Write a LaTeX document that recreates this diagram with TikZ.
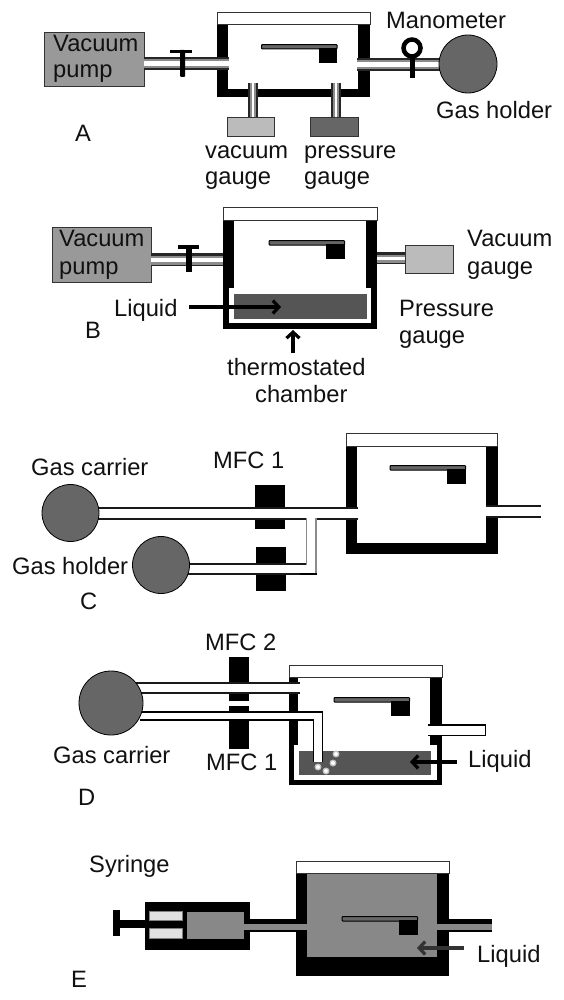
\documentclass[tikz,border=0pt]{standalone}
\usepackage{fontspec}
\setmainfont{Liberation Sans}
\usetikzlibrary{arrows.meta}
\definecolor{pumpgray}{HTML}{999999}
\definecolor{holdgray}{HTML}{666666}
\definecolor{vacgray}{HTML}{BBBBBB}
\definecolor{liqgray}{HTML}{555555}
\definecolor{fillgray}{HTML}{888888}
\definecolor{inkdark}{HTML}{111111}
\tikzset{
  lab/.style={anchor=base west,inner sep=0pt,font=\fontsize{23.7}{25}\selectfont,text=inkdark},
  solidk/.style={fill=black,draw=none},
  boxg/.style={draw=black!80,line width=1pt},
  pipeout/.style={fill=black!85,draw=none},
  pointer/.style={line width=4pt,draw=black,-{Straight Barb[length=6pt,width=13pt,line width=3.2pt]}},
}
\newcommand{\Rc}[5][solidk]{\path[#1] (#2,#3) rectangle (#4,#5);}
\newcommand{\HPipe}[4]{%
  \path[pipeout] (#1,#3) rectangle (#2,#4);
  \path[fill=black!45] (#1,#3+2.5) rectangle (#2,#4-1.5);
  \path[fill=white] (#1,#3+4.5) rectangle (#2,#4-4);}
\newcommand{\VPipe}[4]{%
  \path[pipeout] (#1,#3) rectangle (#2,#4);
  \path[fill=black!45] (#1+2,#3) rectangle (#2-2,#4);
  \path[fill=white] (#1+4,#3) rectangle (#2-4,#4);}
\newcommand{\WPipe}[4]{%
  \path[fill=black!90] (#1,#3) rectangle (#2,#4);
  \path[fill=white] (#1,#3+2.2) rectangle (#2,#4-2);}
\newcommand{\Balance}[2]{%
  \path[fill=black!60,draw=black,line width=1pt,rounded corners=0.8pt] (#1,#2+0.6) rectangle (#1+75.5,#2+5);
  \path[solidk] (#1+57,#2+4) rectangle (#1+75.5,#2+19);}
\newcommand{\Lid}[4]{\path[fill=white,draw=black!80,line width=1pt] (#1,#2) rectangle (#3,#4);}
\newcommand{\Ball}[3]{\path[fill=holdgray,draw=black,line width=0.8pt] (#1,#2) circle (#3);}
\begin{document}
\begin{tikzpicture}[x=1pt,y=-1pt]
\useasboundingbox (0,0) rectangle (564,1000);
\path[fill=white] (0,0) rectangle (564,1000);

%% ---------- A
\Rc{217}{25}{370}{97}
\Rc[fill=white]{228}{25}{358}{89}
\Lid{217}{13}{370}{25}
\Balance{261.5}{44}
\path[fill=pumpgray,boxg] (44,33) rectangle (144,87);
\HPipe{144}{229}{57}{70}
\path[solidk] (170,50) rectangle (192,53.5);
\path[solidk,rounded corners=1pt] (180,50) rectangle (185,77);
\HPipe{357}{440}{58}{71}
\path[draw=black,line width=4.5pt] (412,48) circle (8.5);
\path[solidk] (409.5,57) rectangle (415,78);
\Ball{468}{64}{29}
\VPipe{248}{258}{83}{118}
\VPipe{331}{341}{83}{118}
\path[fill=vacgray,boxg] (227,118) rectangle (274,137);
\path[fill=holdgray,boxg] (310,118) rectangle (358,137);
\node[lab] (a1) at (53,52) {Vacuum};
\node[lab] (a2) at (53,78) {pump};
\node[lab] (a3) at (386,29) {Manometer};
\node[lab] (a4) at (436,119) {Gas holder};
\node[lab] (a5) at (75,142) {A};
\node[lab] (a6) at (205,159) {vacuum};
\node[lab] (a7) at (205,185) {gauge};
\node[lab] (a8) at (304,159) {pressure};
\node[lab] (a9) at (304,185) {gauge};

%% ---------- B
\Rc{223}{221}{377}{329}
\Rc[fill=white]{234}{221}{366}{289}
\Rc[fill=white]{229}{288}{371}{323}
\Lid{223}{208}{377}{221}
\Rc[fill=liqgray]{234}{294}{367}{319}
\Balance{269}{240}
\path[fill=pumpgray,boxg] (52,228) rectangle (151,282);
\HPipe{151}{223}{253}{266}
\path[solidk] (178,245) rectangle (199,249);
\path[solidk] (186,245) rectangle (191.5,272);
\HPipe{377}{405}{252}{264}
\path[fill=vacgray,boxg] (405,245) rectangle (453,273);
\node[lab] (b1) at (59,247) {Vacuum};
\node[lab] (b2) at (59,274) {pump};
\node[lab] (b3) at (114,316) {Liquid};
\node[lab] (b4) at (85,338) {B};
\node[lab] (b5) at (467,247) {Vacuum};
\node[lab] (b6) at (467,274) {gauge};
\node[lab] (b7) at (399,316) {Pressure};
\node[lab] (b8) at (399,343) {gauge};
\node[lab] (b9) at (227,375) {thermostated};
\node[lab] (b10) at (255,402) {chamber};
\coordinate (bla) at (189,307);
\coordinate (blb) at (281,307);
\coordinate (bta) at (293,353);
\coordinate (btb) at (293,330);
\draw[pointer] (bla) -- (blb);
\draw[pointer] (bta) -- (btb);

%% ---------- C
\Rc{346}{446}{497.5}{554}
\Rc[fill=white]{357}{446}{486}{543}
\Lid{346}{433}{497.5}{446}
\Balance{390}{465}
\Rc{255}{485}{285}{529}
\Rc{256}{547}{286}{591}
\WPipe{90}{358}{507}{519.5}
\Rc[fill=white]{307}{516}{314.5}{520}
\Rc[fill=white]{345}{509.5}{360}{517}
\WPipe{486}{541}{505}{518}
\Rc[fill=white]{480}{507.5}{541}{515.5}
\WPipe{185}{306}{563}{575}
\path[fill=black!45] (305.5,518) rectangle (307,565);
\path[fill=white] (307,519.5) rectangle (315,575);
\path[fill=black!45] (315,518) rectangle (316.5,575);
\path[fill=black] (300,573) rectangle (316.5,575);
\path[fill=white] (295,565.2) rectangle (307,573);
\path[fill=white] (307,565) rectangle (315,573);
\Ball{70.5}{513}{28.5}
\Ball{161}{565}{28.5}
\node[lab] (c1) at (31,475) {Gas carrier};
\node[lab] (c2) at (213,468) {MFC 1};
\node[lab] (c3) at (12,574) {Gas holder};
\node[lab] (c4) at (80,609) {C};

%% ---------- D
\Rc{289}{677}{442}{785}
\Rc[fill=white]{298}{677}{430}{746}
\Rc[fill=white]{294}{745}{437}{780}
\Lid{289}{665}{442}{677}
\Rc[fill=liqgray]{299}{751}{431}{775}
\Balance{334}{697}
\Rc{229}{657}{249}{701}
\Rc{229}{706}{249}{749}
\WPipe{130}{300}{682}{694}
\path[fill=black] (140,711) rectangle (323,721);
\path[fill=white] (140,713) rectangle (313,719);
\path[fill=black] (313,711) rectangle (323,762);
\path[fill=white] (314,719) rectangle (321.5,761.5);
\path[fill=white] (300,713) rectangle (321.5,719);
\Rc{428}{724}{486}{736}
\Rc[fill=white]{420}{726}{485}{734.5}
\foreach \i/\bx/\by in {1/336/754,2/333/763,3/318/767,4/326/771}{
  \path[fill=white,draw=black!25,line width=1.3pt] (\bx,\by) circle (2.8);
}
\Ball{111}{703}{32}
\node[lab] (d1) at (205,650) {MFC 2};
\node[lab] (d2) at (206,770) {MFC 1};
\node[lab] (d3) at (53,763) {Gas carrier};
\node[lab] (d4) at (468,767) {Liquid};
\node[lab] (d5) at (78,805) {D};
\coordinate (dla) at (457,762);
\coordinate (dlb) at (410,762);
\draw[pointer] (dla) -- (dlb);

%% ---------- E
\Rc{296}{873}{449}{976}
\Rc[fill=fillgray]{307}{873}{437}{957}
\Lid{296}{861}{449}{873}
\Balance{342}{916}
\Rc{113}{910}{120}{936}
\Rc{120}{919.5}{187}{928}
\Rc{145}{902}{249.5}{950}
\Rc[fill=fillgray]{187}{911.5}{244}{939}
\path[fill=black!12,draw=black!50,line width=0.6pt] (149,911) rectangle (182,920);
\path[fill=black!12,draw=black!50,line width=0.6pt] (149,928) rectangle (182,938);
\Rc{249}{919}{307}{931.5}
\Rc[fill=fillgray]{244}{923.5}{308}{929.5}
\Rc{437}{919}{492}{932}
\Rc[fill=fillgray]{436}{923.5}{492}{930}
\node[lab] (e1) at (89,872) {Syringe};
\node[lab] (e2) at (477,962) {Liquid};
\node[lab] (e3) at (71,987) {E};
\coordinate (ela) at (464,948);
\coordinate (elb) at (417,948);
\draw[pointer,draw=black!80] (ela) -- (elb);
\end{tikzpicture}
\end{document}
